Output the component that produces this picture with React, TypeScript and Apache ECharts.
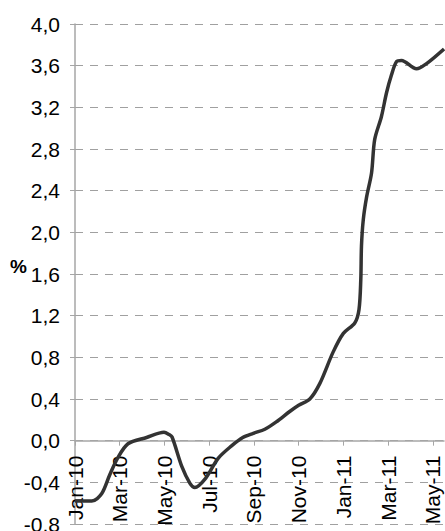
import React, { useEffect, useRef } from "react";
import * as echarts from "echarts";

// x = months since Jan-2010 (fractional), y = percent
const monthPos: number[] = [0, 0.75, 1.19, 1.55, 1.9, 2.37, 3.2, 3.98, 4.2, 4.34, 4.78, 5.14, 5.36, 5.81, 6.4, 7.0, 7.5, 7.97, 8.49, 9.0, 9.6, 10.0, 10.5, 10.95, 11.54, 12.0, 12.51, 12.7, 12.78, 12.81, 12.89, 13.04, 13.26, 13.4, 13.7, 13.93, 14.15, 14.38, 14.6, 15.27, 15.72, 16.5];
const values: number[] = [-0.58, -0.58, -0.51, -0.33, -0.17, -0.03, 0.03, 0.08, 0.06, 0.035, -0.25, -0.41, -0.45, -0.37, -0.17, -0.05, 0.03, 0.07, 0.11, 0.18, 0.28, 0.34, 0.4, 0.55, 0.85, 1.03, 1.13, 1.26, 1.55, 1.87, 2.12, 2.34, 2.57, 2.89, 3.11, 3.34, 3.51, 3.64, 3.65, 3.57, 3.62, 3.76];
const xTickLabels: string[] = ["Jan-10", "Mar-10", "May-10", "Jul-10", "Sep-10", "Nov-10", "Jan-11", "Mar-11", "May-11"];
const yUnit = "%";

const Y_MIN = -0.8;
const Y_MAX = 4.0;
const GRID_TOP = 24;
const GRID_BOTTOM = 7;
const HEIGHT = 531;

export default function App() {
  const ref = useRef<HTMLDivElement>(null);
  useEffect(() => {
    if (!ref.current) return;
    const chart = echarts.init(ref.current, undefined, { renderer: "svg" });
    const font = "'Liberation Sans', Arial, sans-serif";
    const plotH = HEIGHT - GRID_TOP - GRID_BOTTOM;
    const zeroFromBottom = (plotH * (0 - Y_MIN)) / (Y_MAX - Y_MIN);
    chart.setOption({
      animation: false,
      backgroundColor: "#fff",
      grid: { left: 75, right: 1, top: GRID_TOP, bottom: GRID_BOTTOM, containLabel: false, outerBoundsMode: "none" },
      graphic: [
        {
          type: "text",
          left: 10,
          top: 257,
          style: { text: yUnit, font: `bold 19px ${font}`, fill: "#000" },
        },
      ],
      xAxis: {
        type: "value",
        min: 0,
        max: 16.5,
        interval: 2,
        position: "bottom",
        offset: -zeroFromBottom,
        axisLine: { onZero: false, lineStyle: { color: "#a6a6a6", width: 1.5 } },
        axisTick: { show: true, length: 5, lineStyle: { color: "#a6a6a6" } },
        splitLine: { show: false },
        axisLabel: {
          rotate: 90,
          margin: 15,
          fontSize: 21,
          fontFamily: font,
          color: "#000",
          showMaxLabel: false,
          formatter: (v: number) => {
            const i = Math.round(v / 2);
            return Math.abs(v - i * 2) < 1e-6 ? xTickLabels[i] ?? "" : "";
          },
        },
      },
      yAxis: {
        type: "value",
        min: Y_MIN,
        max: Y_MAX,
        interval: 0.4,
        axisLine: { show: true, onZero: false, lineStyle: { color: "#a6a6a6", width: 1.5 } },
        axisTick: { show: true, length: 5, lineStyle: { color: "#a6a6a6" } },
        splitLine: { show: true, lineStyle: { color: "#a0a0a0", type: [8, 7], width: 1 } },
        axisLabel: {
          margin: 15,
          fontSize: 21,
          fontFamily: font,
          color: "#000",
          formatter: (v: number) => v.toFixed(1).replace(".", ","),
        },
      },
      series: [
        {
          type: "line",
          data: monthPos.map((m, i) => [m, values[i]]),
          showSymbol: false,
          smooth: 0.3,
          lineStyle: { color: "#333333", width: 3.5 },
        },
      ],
    });
    return () => chart.dispose();
  }, []);
  return <div ref={ref} style={{ width: 445, height: 531, position: "absolute", left: 0, top: 0 }} />;
}
